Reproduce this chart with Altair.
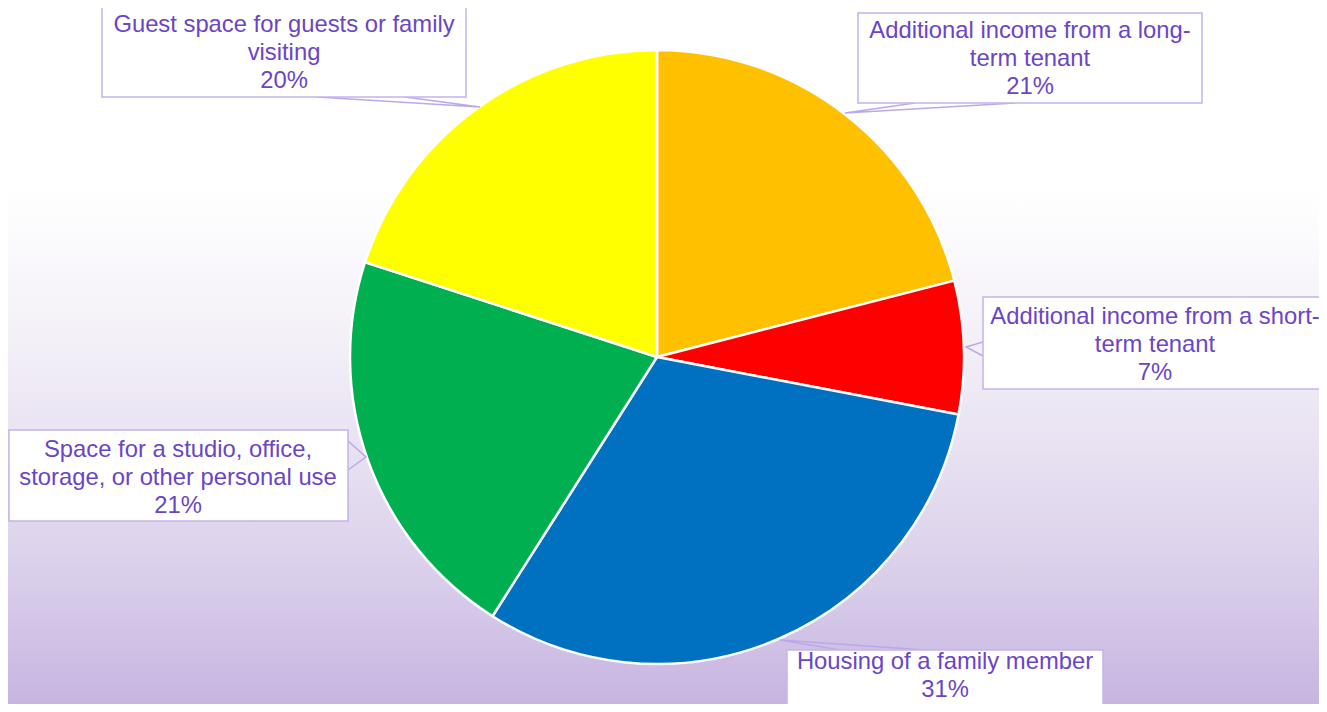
import altair as alt
import pandas as pd

# ---- data ----
categories = [
    "Additional income from a long-term tenant",
    "Additional income from a short-term tenant",
    "Housing of a family member",
    "Space for a studio, office, storage, or other personal use",
    "Guest space for guests or family visiting",
]
values = [21, 7, 31, 21, 20]
colors = ["#FFC000", "#FF0000", "#0070C0", "#00B050", "#FFFF00"]
label_lines = [
    ["Additional income from a long-", "term tenant"],
    ["Additional income from a short-", "term tenant"],
    ["Housing of a family member"],
    ["Space for a studio, office,", "storage, or other personal use"],
    ["Guest space for guests or family", "visiting"],
]

# ---- layout (screen pixels, page margin subtracted below) ----
W, H = 1311, 696
OFF = 8
CX, CY, R = 657 - OFF, 357 - OFF, 307
boxes = [(858, 1202, 13, 103), (983, 1338, 297, 389), (787, 1103, 650, 722),
         (9, 348, 430, 521), (102, 466, 3, 97)]
# centre of the first text line of each label
text_pos = [(1030, 31), (1155, 317), (945, 662), (178, 450), (284, 25)]
pointers = [
    [(915, 103), (845, 113), (1015, 103)],
    [(983, 342), (966, 347), (983, 356)],
    [(840, 650), (780, 640), (925, 650)],
    [(348, 441), (366, 457), (348, 470)],
    [(317, 97), (480, 107), (405, 97)],
]

TEXT_COLOR = "#6A45C8"
BOX_STROKE = "#C4B4EA"
FONT = "Liberation Sans"

pie_df = pd.DataFrame({"category": categories, "value": values,
                       "idx": list(range(len(categories)))})

text_df = pd.DataFrame({
    "text": ["\n".join(lines + [f"{v}%"]) for lines, v in zip(label_lines, values)],
    "x": [p[0] - OFF for p in text_pos],
    "y": [p[1] - OFF for p in text_pos],
})

box_df = pd.DataFrame({
    "x": [b[0] - OFF for b in boxes], "x2": [b[1] - OFF for b in boxes],
    "y": [b[2] - OFF for b in boxes], "y2": [b[3] - OFF for b in boxes],
})

ptr_rows = []
for i, pts in enumerate(pointers):
    for k, (px, py) in enumerate(pts):
        ptr_rows.append({"id": i, "k": k, "x": px - OFF, "y": py - OFF})
ptr_df = pd.DataFrame(ptr_rows)

bg = alt.Chart(pd.DataFrame({"a": [0]})).mark_rect(
    color=alt.LinearGradient(
        gradient="linear", x1=0, x2=0, y1=0, y2=1,
        stops=[alt.GradientStop(color="#FFFFFF", offset=0),
               alt.GradientStop(color="#FFFFFF", offset=0.26),
               alt.GradientStop(color="#F2EEF7", offset=0.50),
               alt.GradientStop(color="#DDD3EC", offset=0.78),
               alt.GradientStop(color="#C7B5E1", offset=1)])
).encode(x=alt.value(0), x2=alt.value(W), y=alt.value(0), y2=alt.value(H))

pie = alt.Chart(pie_df).mark_arc(radius=R, stroke="white", strokeWidth=2.5).encode(
    theta=alt.Theta("value:Q", stack=True),
    color=alt.Color("category:N", scale=alt.Scale(domain=categories, range=colors), legend=None),
    order=alt.Order("idx:Q"),
    x=alt.value(CX), y=alt.value(CY),
)

ptrs = alt.Chart(ptr_df).mark_line(color="#BBA8E8", strokeWidth=1.5).encode(
    x=alt.X("x:Q", scale=None), y=alt.Y("y:Q", scale=None),
    detail="id:N", order="k:Q",
)

bx = alt.Chart(box_df).mark_rect(fill="white", stroke=BOX_STROKE, strokeWidth=1.5).encode(
    x=alt.X("x:Q", scale=None), x2="x2:Q",
    y=alt.Y("y:Q", scale=None), y2="y2:Q",
)

txt = alt.Chart(text_df).mark_text(
    lineBreak="\n", fontSize=23.8, lineHeight=28, font=FONT, color=TEXT_COLOR,
    align="center", baseline="middle",
).encode(x=alt.X("x:Q", scale=None), y=alt.Y("y:Q", scale=None), text="text:N")

chart = alt.layer(bg, pie, ptrs, bx, txt).properties(
    width=W, height=H, padding=0, autosize=alt.AutoSizeParams(type="none")
).configure_view(stroke=None).configure_axis(disable=True)

chart.save("out.html", embed_options={"renderer": "svg", "actions": False})
